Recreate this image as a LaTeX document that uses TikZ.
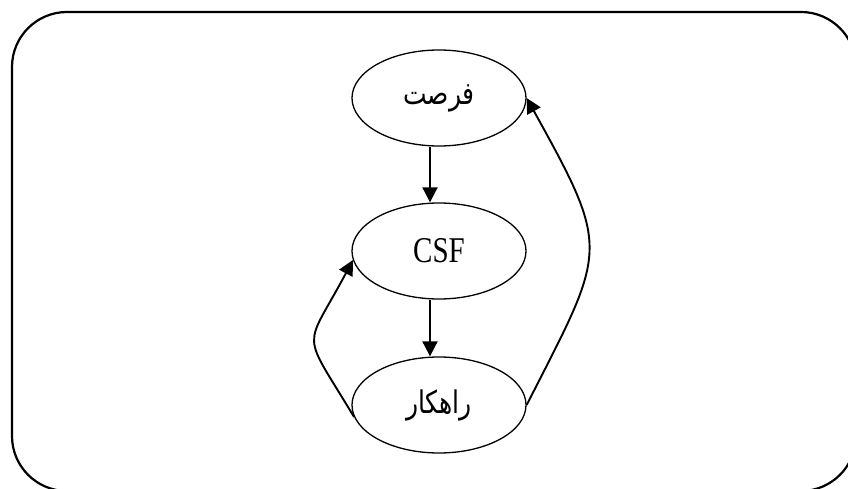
\documentclass[tikz,border=0pt]{standalone}
\usetikzlibrary{arrows.meta,shapes.geometric}
\usepackage{xcolor}
\usepackage{graphicx}
\usepackage{fontspec}
\setmainfont{Liberation Serif}
\newfontfamily\arabicfont[Script=Arabic]{DejaVu Sans}
\TeXXeTstate=1
\newcommand{\tallbox}[1]{\scalebox{1}[1.25]{#1}}

\tikzset{
    ell/.style={draw=black, ellipse, line width=1.3pt, minimum width=174pt, minimum height=96pt, inner sep=0pt},
    fa/.style={font=\fontsize{25}{30}\selectfont\arabicfont},
    arr/.style={line width=1.9pt, -{Triangle[length=15pt,width=15pt]}}
}

\begin{document}
\begin{tikzpicture}[x=1pt, y=-1pt]
        \useasboundingbox (0,0) rectangle (848,489);
        \clip (0,0) rectangle (848,489);
        \draw[line width=2.2pt, rounded corners=55pt] (12,12) rectangle (856,491);

        \node[ell, fa] (opp) at (439,98) {\tallbox{\beginR فرصت\endR}};
        \node[ell, font=\fontsize{29}{34}\selectfont] (csf) at (439,251) {\tallbox{CSF}};
        \node[ell, fa] (sol) at (439,405) {\tallbox{\beginR راهکار\endR}};

        \path[arr]
            ([xshift=-9pt]opp.south) edge ([xshift=-9pt]csf.north)
            ([xshift=-9pt]csf.south) edge ([xshift=-9pt]sol.north)
            (sol.188) edge[out=121, in=-118, looseness=1.7] (csf.186)
            (sol.east) edge[out=63, in=-61, looseness=1.47] (opp.east);

        \end{tikzpicture}
\end{document}
